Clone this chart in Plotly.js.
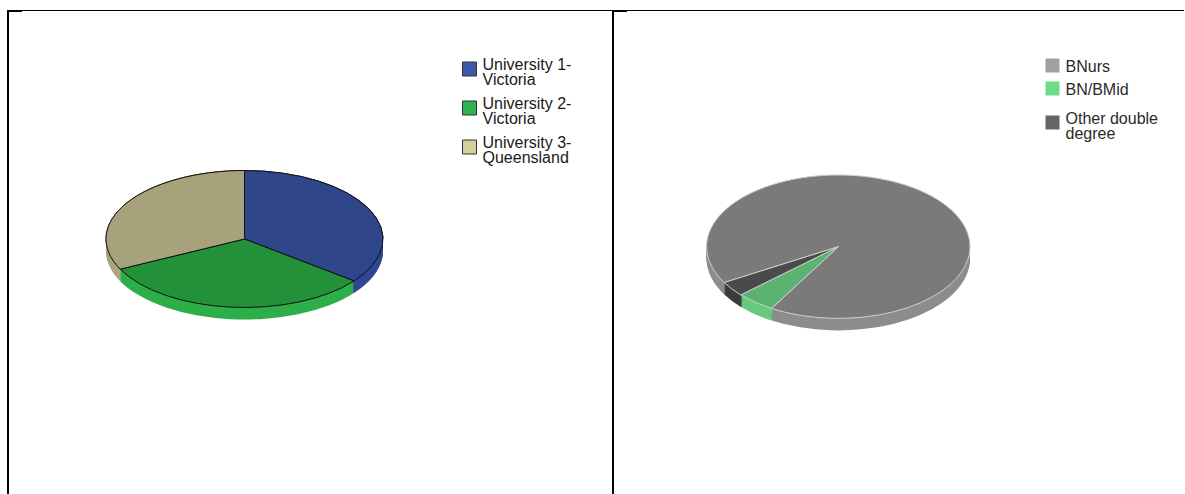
<!DOCTYPE html>
<html><head><meta charset="utf-8">
<script src="https://cdn.plot.ly/plotly-3.0.1.min.js"></script>
<style>html,body{margin:0;padding:0;background:#fff;} #chart{width:1185px;height:494px;}</style>
</head><body><div id="chart"></div>
<script>
// ---- data ----
const uniLabels = ['University 1-<br>Victoria', 'University 2-<br>Victoria', 'University 3-<br>Queensland'];
const uniValues = [11, 10, 10];
const degLabels = ['BNurs', 'BN/BMid', 'Other double<br>degree'];
const degValues = [91.8, 4.8, 3.4];

// ---- styles ----
const W = 1185, H = 494;
const uniTop = ['#2F468A', '#23903A', '#A7A27B'];
const uniSide = ['#2F4896', '#2DAF4A', '#AAA57F'];
const uniLegend = ['#3F58A8', '#2DB34B', '#D5D09C'];
const degTop = ['#7A7A7A', '#5AB46F', '#4A4A4A'];
const degSide = ['#8D8D8D', '#66CA7F', '#3C3C3C'];
const degLegend = ['#A0A0A0', '#6EDB8B', '#666666'];

const pies = [
  {labels: uniLabels, values: uniValues, cx: 244.5, cy: 239, rx: 138.5, ry: 68.5, depth: 12, rotation: 0,
   top: uniTop, side: uniSide, leg: uniLegend, line: '#111111', lineW: 1, legLine: '#333333', legLineW: 1, legend: 'legend'},
  {labels: degLabels, values: degValues, cx: 838.3, cy: 246.7, rx: 131.7, ry: 71.7, depth: 12, rotation: 240,
   top: degTop, side: degSide, leg: degLegend, line: '#d0d0d0', lineW: 1, legLine: '#ffffff', legLineW: 0, legend: 'legend2'}
];

const data = [];
const xf = []; // per-trace transform info
pies.forEach(p => {
  const domain = {x: [(p.cx - p.rx) / W, (p.cx + p.rx) / W], y: [1 - (p.cy + p.rx) / H, 1 - (p.cy - p.rx) / H]};
  const base = {type: 'pie', labels: p.labels, values: p.values, domain: domain, sort: false, direction: 'clockwise',
    rotation: p.rotation, textinfo: 'none', hoverinfo: 'none', legend: p.legend};
  const s = p.ry / p.rx;
  data.push(Object.assign({}, base, {showlegend: true, marker: {colors: p.leg, line: {color: p.legLine, width: p.legLineW}}}));
  xf.push({cy: p.cy, s: s, k: 0});
  for (let k = p.depth; k >= 1; k--) {
    data.push(Object.assign({}, base, {showlegend: false, marker: {colors: p.side, line: {width: 0}}}));
    xf.push({cy: p.cy, s: s, k: k});
  }
  data.push(Object.assign({}, base, {showlegend: false, marker: {colors: p.top, line: {color: p.line, width: p.lineW}}}));
  xf.push({cy: p.cy, s: s, k: 0});
});

const legFont = {family: 'Liberation Sans, Arial, sans-serif', size: 16, color: '#1a1a1a'};
const px = v => v / W, py = v => 1 - v / H;
const line = (x0, y0, x1, y1, w) => ({type: 'line', xref: 'paper', yref: 'paper', x0: px(x0), y0: py(y0), x1: px(x1), y1: py(y1), line: {color: '#000', width: w}});

const layout = {
  width: W, height: H, margin: {l: 0, r: 0, t: 0, b: 0},
  paper_bgcolor: '#ffffff', plot_bgcolor: '#ffffff', hovermode: false,
  legend: {x: px(449.5), y: py(40), xanchor: 'left', yanchor: 'top', bgcolor: 'rgba(0,0,0,0)', font: legFont, itemwidth: 30, tracegroupgap: 0, traceorder: 'normal'},
  legend2: {x: px(1032.5), y: py(40), xanchor: 'left', yanchor: 'top', bgcolor: 'rgba(0,0,0,0)', font: Object.assign({}, legFont, {color: '#2a2a2a'}), itemwidth: 30, tracegroupgap: 0, traceorder: 'normal'},
  shapes: [
    line(7, 10.5, 1184, 10.5, 1),
    line(8, 10, 8, 494, 2),
    line(613, 10, 613, 494, 2),
    line(7, 11, 22, 11, 2),
    line(612, 11, 627, 11, 2)
  ]
};

// legend item layout targets (swatch centre y, px)
const legendTargets = {legend: [69, 108, 147], legend2: [65.5, 88.5, 122.5]};

Plotly.newPlot('chart', data, layout, {displayModeBar: false, staticPlot: true}).then(gd => {
  gd.querySelectorAll('.pielayer g.trace').forEach((g, i) => {
    const t = xf[i];
    if (!t) return;
    g.setAttribute('transform', 'translate(0,' + (t.cy * (1 - t.s) + t.k) + ') scale(1,' + t.s + ')');
    g.querySelectorAll('path').forEach(p => p.setAttribute('vector-effect', 'non-scaling-stroke'));
  });
  Object.keys(legendTargets).forEach(id => {
    const leg = gd.querySelector('.infolayer > g.' + id);
    if (!leg) return;
    leg.querySelectorAll('[clip-path]').forEach(n => n.removeAttribute('clip-path'));
    const targets = legendTargets[id];
    leg.querySelectorAll('g.traces').forEach((item, i) => {
      const pt = item.querySelector('.legendpoints path');
      if (pt) pt.setAttribute('d', 'M7,7H-7V-7H7Z');
      const txt = item.querySelector('text.' + id + 'text');
      if (txt) {
        const lines = txt.querySelectorAll('tspan.line');
        const y0 = lines.length <= 1 ? 6.5 : 1;
        txt.setAttribute('x', 33);
        txt.setAttribute('y', y0);
        lines.forEach((l, j) => {
          l.setAttribute('x', 33);
          l.setAttribute('y', y0 + j * 15.3);
          l.setAttribute('dy', 0);
        });
      }
      if (pt && targets[i] != null) {
        const r = pt.getBoundingClientRect();
        const cur = r.top + r.height / 2;
        const m = /translate\(\s*([-\d.e]+)[ ,]\s*([-\d.e]+)/.exec(item.getAttribute('transform') || '');
        const tx = m ? parseFloat(m[1]) : 0, ty = m ? parseFloat(m[2]) : 0;
        item.setAttribute('transform', 'translate(' + tx + ',' + (ty + targets[i] - cur) + ')');
      }
    });
  });
});
</script>
</body></html>
